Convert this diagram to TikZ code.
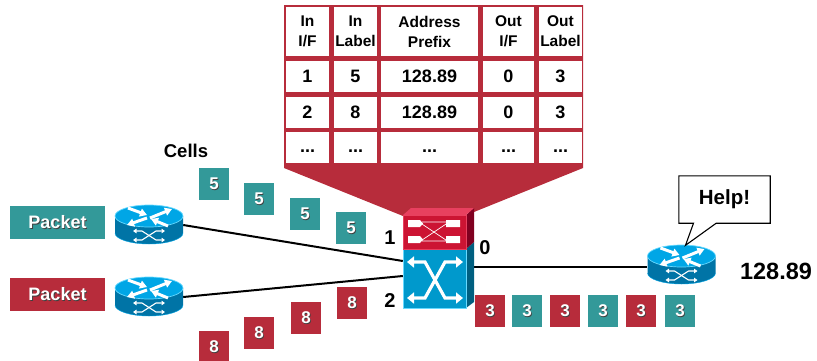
\documentclass[tikz,border=0pt]{standalone}
\usepackage{fontspec}
\setmainfont{Liberation Sans}
\usetikzlibrary{arrows.meta}
\definecolor{tablered}{HTML}{B72C3B}
\definecolor{cellteal}{HTML}{339999}
\definecolor{routertop}{HTML}{00A6E6}
\definecolor{routerside}{HTML}{0074A6}
\definecolor{routeredge}{HTML}{66D9FF}
\definecolor{switchblue}{HTML}{0099CC}
\definecolor{switchdark}{HTML}{005F80}
\definecolor{switchred}{HTML}{CC1433}
\definecolor{switchdarkred}{HTML}{800020}
\definecolor{switchpink}{HTML}{E8405F}
\newcommand{\shadowed}[1]{\rlap{\kern0.9pt\raisebox{-0.9pt}{\textcolor{black!75}{#1}}}#1}
\tikzset{
  cellbox/.style={fill=white, inner sep=0pt, minimum height=31pt, align=center, font=\bfseries\fontsize{18}{20}\selectfont},
  headbox/.style={cellbox, minimum height=49pt, font=\bfseries\fontsize{15.5}{20}\selectfont},
  dotsbox/.style={cellbox, text height=10pt, text depth=0pt},
  tealcell/.style={fill=cellteal, text=white, inner sep=0pt, minimum width=30pt, minimum height=32pt, font=\bfseries\fontsize{17}{18}\selectfont},
  redcell/.style={tealcell, fill=tablered},
  packetbox/.style={tealcell, minimum width=95pt, minimum height=33pt, font=\bfseries\fontsize{18}{20}\selectfont},
  biglabel/.style={inner sep=0pt, font=\bfseries\fontsize{20}{22}\selectfont},
  routerspot/.style={inner sep=0pt, minimum width=68pt, minimum height=39pt},
  link/.style={line width=2pt, black},
  whitearrow/.style={white, line width=3pt, -{Triangle[width=8pt,length=7pt]}},
  thinarrow/.style={white, line width=1.1pt, {Triangle[width=4.5pt,length=3.5pt]}-{Triangle[width=4.5pt,length=3.5pt]}},
  bigarrow/.style={white, line width=3.2pt, {Triangle[width=11pt,length=7pt]}-{Triangle[width=11pt,length=7pt]}},
  router/.pic={
    \fill[routerside] (-34,-9) -- (-34,8) arc[start angle=180, end angle=0, x radius=34, y radius=11] -- (34,-9) -- cycle;
    \draw[routertop, line width=0.4pt] (-34,8) arc[start angle=180, end angle=0, x radius=34, y radius=11];
    \filldraw[fill=routertop, draw=routeredge, line width=0.7pt] (0,-9) ellipse[x radius=34, y radius=11];
    \draw[whitearrow] (-21,-17) -- (-2,-10);
    \draw[whitearrow] (1,-7) -- (23,-16);
    \draw[whitearrow] (-2,-7) -- (-22,0);
    \draw[whitearrow] (19,1) -- (2,-6);
    \draw[thinarrow] (-16,6) -- (-7,6) -- (7,15) -- (16,15);
    \draw[thinarrow] (-16,15) -- (-7,15) -- (7,6) -- (16,6);
  }
}
\begin{document}
\begin{tikzpicture}[x=1pt, y=-1pt]
\useasboundingbox (0,0) rectangle (817,360);

\fill[tablered] (284,5) -- (583,5) -- (583,168) -- (474,212) -- (403,216) -- (284,168) -- cycle;

\node[headbox, minimum width=43pt] (inif) at (307.5,31.5) {In\\I/F};
\node[headbox, minimum width=43pt] (inlabel) at (355.5,31.5) {In\\Label};
\node[headbox, minimum width=97pt] (prefix) at (429.5,31.5) {Address\\Prefix};
\node[headbox, minimum width=51pt] (outif) at (508.5,31.5) {Out\\I/F};
\node[headbox, minimum width=43pt] (outlabel) at (560.5,31.5) {Out\\Label};

\node[cellbox, minimum width=43pt] (inifa) at (307.5,76.5) {1};
\node[cellbox, minimum width=43pt] (inlabela) at (355.5,76.5) {5};
\node[cellbox, minimum width=97pt] (prefixa) at (429.5,76.5) {128.89};
\node[cellbox, minimum width=51pt] (outifa) at (508.5,76.5) {0};
\node[cellbox, minimum width=43pt] (outlabela) at (560.5,76.5) {3};

\node[cellbox, minimum width=43pt] (inifb) at (307.5,112) {2};
\node[cellbox, minimum width=43pt] (inlabelb) at (355.5,112) {8};
\node[cellbox, minimum width=97pt] (prefixb) at (429.5,112) {128.89};
\node[cellbox, minimum width=51pt] (outifb) at (508.5,112) {0};
\node[cellbox, minimum width=43pt] (outlabelb) at (560.5,112) {3};

\node[dotsbox, minimum width=43pt] (inifc) at (307.5,147.5) {...};
\node[dotsbox, minimum width=43pt] (inlabelc) at (355.5,147.5) {...};
\node[dotsbox, minimum width=97pt] (prefixc) at (429.5,147.5) {...};
\node[dotsbox, minimum width=51pt] (outifc) at (508.5,147.5) {...};
\node[dotsbox, minimum width=43pt] (outlabelc) at (560.5,147.5) {...};

\node[packetbox] (packeta) at (57.5,222.5) {\shadowed{Packet}};
\node[packetbox, fill=tablered] (packetb) at (57.5,294.5) {\shadowed{Packet}};

\node[routerspot] (routera) at (149,225) {};
\node[routerspot] (routerb) at (149,297) {};
\node[routerspot] (routerc) at (681.5,265) {};
\node[inner sep=0pt, minimum width=63pt, minimum height=59pt] (swbody) at (434.5,278.5) {};
\node[inner sep=0pt, minimum width=63pt, minimum height=34pt] (swtop) at (434.5,232) {};

\draw[link] (routera.east) -- ([yshift=17.5pt]swbody.west);
\draw[link] (routerb.east) -- ([yshift=2.5pt]swbody.west);
\draw[link] ([xshift=8pt,yshift=11.5pt]swbody.east) -- ([yshift=-2pt]routerc.west);

\pic at (routera) {router};
\pic at (routerb) {router};
\pic at (routerc) {router};

\fill[switchdark] (466,249) -- (474,242) -- (474,302) -- (466,308) -- cycle;
\fill[switchdarkred] (466,215) -- (474,208) -- (474,242) -- (466,249) -- cycle;
\fill[switchpink] (403,215) -- (411,208) -- (474,208) -- (466,215) -- cycle;
\filldraw[fill=switchblue, draw=routeredge, line width=0.5pt] (403,249) rectangle (466,308);
\filldraw[fill=switchred, draw=switchpink, line width=0.5pt] (403,215) rectangle (466,249);

\draw[bigarrow] (407,262) -- (425,262) -- (445,298) -- (463,298);
\draw[bigarrow] (407,298) -- (425,298) -- (445,262) -- (463,262);

\fill[white] (408,220) rectangle (420,227) (420,220) -- (423,223.5) -- (420,227) -- cycle;
\fill[white] (408,236) rectangle (420,243) (420,236) -- (423,239.5) -- (420,243) -- cycle;
\fill[white] (446,220) rectangle (460,227) (446,236) rectangle (460,243);
\draw[white, line width=0.7pt] (422,222) -- (446,222) (422,224) -- (446,240) (422,240) -- (446,224) (422,241) -- (446,241);

\node[tealcell] (fivea) at (214,184) {\shadowed{5}};
\node[tealcell] (fiveb) at (259,199) {\shadowed{5}};
\node[tealcell] (fivec) at (305,214) {\shadowed{5}};
\node[tealcell] (fived) at (351,228) {\shadowed{5}};

\node[redcell] (eighta) at (352,303) {\shadowed{8}};
\node[redcell] (eightb) at (306,318) {\shadowed{8}};
\node[redcell] (eightc) at (259,333) {\shadowed{8}};
\node[redcell] (eightd) at (214,347) {\shadowed{8}};

\node[redcell] (threea) at (490,311) {\shadowed{3}};
\node[tealcell] (threeb) at (527,311) {\shadowed{3}};
\node[redcell] (threec) at (565,311) {\shadowed{3}};
\node[tealcell] (threed) at (603,311) {\shadowed{3}};
\node[redcell] (threee) at (641,311) {\shadowed{3}};
\node[tealcell] (threef) at (680,311) {\shadowed{3}};

\node[biglabel, font=\bfseries\fontsize{18.5}{20}\selectfont] (cells) at (186,151) {Cells};
\node[biglabel] (portone) at (390,238) {1};
\node[biglabel] (porttwo) at (390,301) {2};
\node[biglabel] (portzero) at (485,248) {0};
\node[biglabel, font=\bfseries\fontsize{23.5}{25}\selectfont] (prefixlabel) at (776,271) {128.89};

\node[inner sep=0pt, minimum width=91pt, minimum height=47pt, font=\bfseries\fontsize{20.5}{22}\selectfont] (help) at (724.5,199.5) {Help!};
\draw[line width=1.1pt, line join=miter] (help.north west) -- (help.north east) -- (help.south east) -- ([xshift=-54pt]help.south east) -- ([xshift=4pt]routerc.north) -- ([xshift=-31pt]help.south) -- (help.south west) -- cycle;
\end{tikzpicture}
\end{document}
